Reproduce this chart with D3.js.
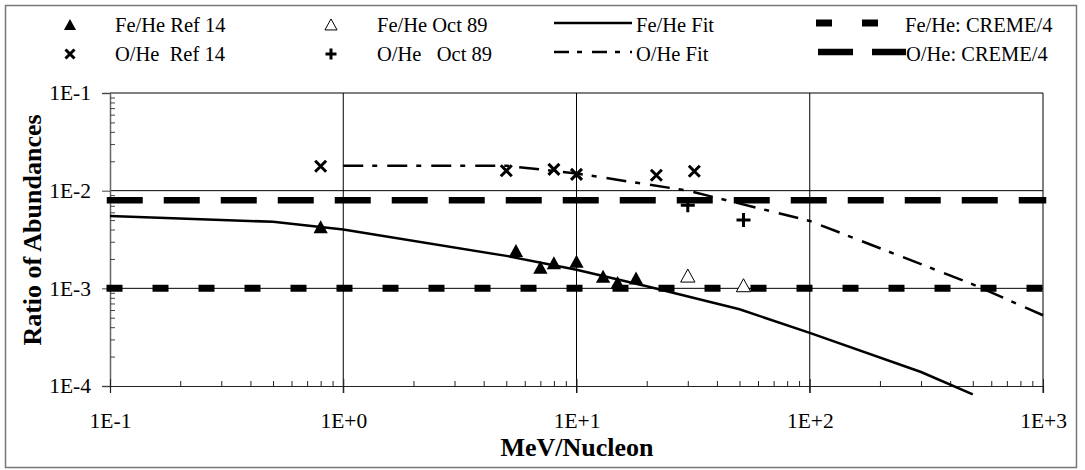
<!DOCTYPE html>
<html>
<head>
<meta charset="utf-8">
<script src="https://cdn.jsdelivr.net/npm/d3@7"></script>
<style>
  body { margin: 0; background: #fff; }
  svg { display: block; font-family: "Liberation Serif", "Times New Roman", serif; }
</style>
</head>
<body>
<svg id="chart" width="1085" height="470"></svg>
<script>
// energies in MeV/nucleon, values are abundance ratios
const feRefE = [0.8, 5.5, 7, 8, 10, 13, 15, 18];
const feRefVal = [4.2e-3, 2.4e-3, 1.62e-3, 1.8e-3, 1.86e-3, 1.31e-3, 1.13e-3, 1.26e-3];
const feOctE = [30, 52];
const feOctVal = [1.33e-3, 1.06e-3];
const oRefE = [0.8, 5, 8, 10, 22, 32];
const oRefVal = [1.78e-2, 1.6e-2, 1.65e-2, 1.47e-2, 1.44e-2, 1.58e-2];
const oOctE = [30, 52];
const oOctVal = [7.1e-3, 5.0e-3];
const feFitE = [0.1, 0.5, 1, 5, 10, 20, 50, 100, 300, 500];
const feFitVal = [5.5e-3, 4.8e-3, 4.0e-3, 2.15e-3, 1.55e-3, 1.05e-3, 6.1e-4, 3.5e-4, 1.39e-4, 8.2e-5];
const oFitE = [1, 5, 10, 30, 100, 500, 1000];
const oFitVal = [1.8e-2, 1.8e-2, 1.5e-2, 1.0e-2, 4.9e-3, 1.1e-3, 5.3e-4];
const cremeFe = 1e-3;
const cremeO = 8e-3;
const xTicks = [0.1, 1, 10, 100, 1000];
const yTicks = [1e-4, 1e-3, 1e-2, 1e-1];

const svg = d3.select('#chart');
const plotLeft = 110, plotTop = 93, plotW = 933, plotH = 293;

const x = d3.scaleLog().domain([0.1, 1000]).range([plotLeft, plotLeft + plotW]);
const y = d3.scaleLog().domain([1e-4, 1e-1]).range([plotTop + plotH, plotTop]);

const fmt = v => {
  const e = Math.round(Math.log10(v));
  return '1E' + (e < 0 ? '-' : '+') + Math.abs(e);
};

const minors = (lo, hi) => {
  const out = [];
  for (let p = lo; p < hi; p++) for (let m = 2; m <= 9; m++) out.push(m * Math.pow(10, p));
  return out;
};

// outer frame
svg.append('rect')
  .attr('x', 5.5).attr('y', 5.5).attr('width', 1071).attr('height', 462)
  .attr('fill', '#fff').attr('stroke', '#777').attr('stroke-width', 1.5);

// gridlines
svg.append('g').selectAll('line').data(xTicks.slice(1)).join('line')
  .attr('x1', d => x(d)).attr('x2', d => x(d))
  .attr('y1', plotTop).attr('y2', plotTop + plotH + 7)
  .attr('stroke', '#000').attr('stroke-width', 1);
svg.append('g').selectAll('line').data(yTicks.slice(1)).join('line')
  .attr('x1', plotLeft).attr('x2', plotLeft + plotW)
  .attr('y1', d => y(d)).attr('y2', d => y(d))
  .attr('stroke', '#000').attr('stroke-width', 1);

// y axis
const yAxis = svg.append('g')
  .attr('transform', `translate(${plotLeft},0)`)
  .call(d3.axisLeft(y).tickValues(yTicks).tickFormat(fmt).tickSize(8).tickPadding(11));
yAxis.select('.domain').attr('stroke', '#666').attr('stroke-width', 1.5);
yAxis.selectAll('.tick line').attr('stroke', '#444');
yAxis.selectAll('text').attr('font-size', 21.5).attr('fill', '#000')
  .attr('font-family', '"Liberation Serif", "Times New Roman", serif');

svg.append('g')
  .attr('transform', `translate(${plotLeft},0)`)
  .call(d3.axisRight(y).tickValues(minors(-4, -1)).tickFormat('').tickSize(5))
  .call(g => g.select('.domain').remove())
  .selectAll('line').attr('stroke', '#444');

// x axis
const xAxis = svg.append('g')
  .attr('transform', `translate(0,${plotTop + plotH})`)
  .call(d3.axisBottom(x).tickValues(xTicks).tickFormat(fmt).tickSize(7).tickPadding(20));
xAxis.select('.domain').attr('stroke', '#222').attr('stroke-width', 1.2);
xAxis.selectAll('.tick line').attr('y1', -7).attr('stroke', '#222');
xAxis.selectAll('text').attr('font-size', 21.5).attr('fill', '#000')
  .attr('font-family', '"Liberation Serif", "Times New Roman", serif');

svg.append('g')
  .attr('transform', `translate(0,${plotTop + plotH})`)
  .call(d3.axisTop(x).tickValues(minors(-1, 3)).tickFormat('').tickSize(5))
  .call(g => g.select('.domain').remove())
  .selectAll('line').attr('stroke', '#222');

// axis titles
svg.append('text')
  .attr('x', 577).attr('y', 456)
  .attr('text-anchor', 'middle').attr('font-weight', 'bold').attr('font-size', 26)
  .text('MeV/Nucleon');
svg.append('text')
  .attr('transform', 'translate(41,230) rotate(-90)')
  .attr('text-anchor', 'middle').attr('font-weight', 'bold').attr('font-size', 26)
  .text('Ratio of Abundances');

// CREME/4 reference levels
svg.append('line')
  .attr('x1', plotLeft).attr('x2', plotLeft + plotW)
  .attr('y1', y(cremeO)).attr('y2', y(cremeO))
  .attr('stroke', '#000').attr('stroke-width', 6.5)
  .attr('stroke-linecap', 'square').attr('stroke-dasharray', '29.5,27.5');
svg.append('line')
  .attr('x1', plotLeft).attr('x2', plotLeft + plotW)
  .attr('y1', y(cremeFe)).attr('y2', y(cremeFe))
  .attr('stroke', '#000').attr('stroke-width', 7)
  .attr('stroke-linecap', 'square').attr('stroke-dasharray', '9,37');

// fits
const line = d3.line().x(d => x(d[0])).y(d => y(d[1]));
svg.append('path')
  .attr('d', line(d3.zip(feFitE, feFitVal)))
  .attr('fill', 'none').attr('stroke', '#000').attr('stroke-width', 2.5);
svg.append('path')
  .attr('d', line(d3.zip(oFitE, oFitVal)))
  .attr('fill', 'none').attr('stroke', '#000').attr('stroke-width', 2.5)
  .attr('stroke-dasharray', '20,9,5,10');

// marker shapes
const shapes = {
  triFill: s => `M0,${-s * 0.55}L${s * 0.55},${s * 0.45}L${-s * 0.55},${s * 0.45}Z`,
  triOpen: s => `M0,${-s * 0.55}L${s * 0.55},${s * 0.45}L${-s * 0.55},${s * 0.45}Z`,
  cross: s => `M${-s / 2},${-s / 2}L${s / 2},${s / 2}M${s / 2},${-s / 2}L${-s / 2},${s / 2}`,
  plus: s => `M${-s / 2},0H${s / 2}M0,${-s / 2}V${s / 2}`
};
const styleMarker = (sel, type) => {
  if (type === 'triFill') sel.attr('fill', '#000').attr('stroke', 'none');
  else if (type === 'triOpen') sel.attr('fill', '#fff').attr('stroke', '#000').attr('stroke-width', 1);
  else sel.attr('fill', 'none').attr('stroke', '#000').attr('stroke-width', 3);
};

const drawPoints = (es, vs, type, size) => {
  const p = svg.append('g').selectAll('path').data(d3.zip(es, vs)).join('path')
    .attr('transform', d => `translate(${x(d[0])},${y(d[1])})`)
    .attr('d', shapes[type](size));
  styleMarker(p, type);
};
drawPoints(feRefE, feRefVal, 'triFill', 13);
drawPoints(feOctE, feOctVal, 'triOpen', 13);
drawPoints(oRefE, oRefVal, 'cross', 11);
drawPoints(oOctE, oOctVal, 'plus', 14);

// legend
const legend = svg.append('g').attr('font-size', 20.5);
const rows = [25, 54];
const markerItems = [
  { type: 'triFill', label: 'Fe/He Ref 14', mx: 70, tx: 115, row: 0 },
  { type: 'cross', label: 'O/He\u00a0 Ref 14', mx: 70, tx: 115, row: 1 },
  { type: 'triOpen', label: 'Fe/He Oct 89', mx: 331, tx: 377, row: 0 },
  { type: 'plus', label: 'O/He\u00a0\u00a0 Oct 89', mx: 331, tx: 377, row: 1 }
];
markerItems.forEach(it => {
  const p = legend.append('path')
    .attr('transform', `translate(${it.mx},${rows[it.row]})`)
    .attr('d', shapes[it.type](it.type === 'plus' ? 11 : it.type === 'cross' ? 9 : 11));
  styleMarker(p, it.type);
  legend.append('text').attr('x', it.tx).attr('y', rows[it.row]).attr('dy', '0.35em').text(it.label);
});

const lineItems = [
  { label: 'Fe/He Fit', x1: 554, x2: 632, tx: 636, row: 0, w: 2.5, dash: null },
  { label: 'O/He Fit', x1: 554, x2: 632, tx: 636, row: 1, w: 2.5, dash: '15,8,5,10' },
  { label: 'Fe/He: CREME/4', x1: 816, x2: 878, tx: 905, row: 0, w: 7, dash: '16,30' },
  { label: 'O/He: CREME/4', x1: 818, x2: 906, tx: 906, row: 1, w: 6.5, dash: '35,19' }
];
lineItems.forEach(it => {
  legend.append('line')
    .attr('x1', it.x1).attr('x2', it.x2)
    .attr('y1', rows[it.row] - 2).attr('y2', rows[it.row] - 2)
    .attr('stroke', '#000').attr('stroke-width', it.w)
    .attr('stroke-dasharray', it.dash);
  legend.append('text').attr('x', it.tx).attr('y', rows[it.row]).attr('dy', '0.35em').text(it.label);
});
</script>
</body>
</html>
